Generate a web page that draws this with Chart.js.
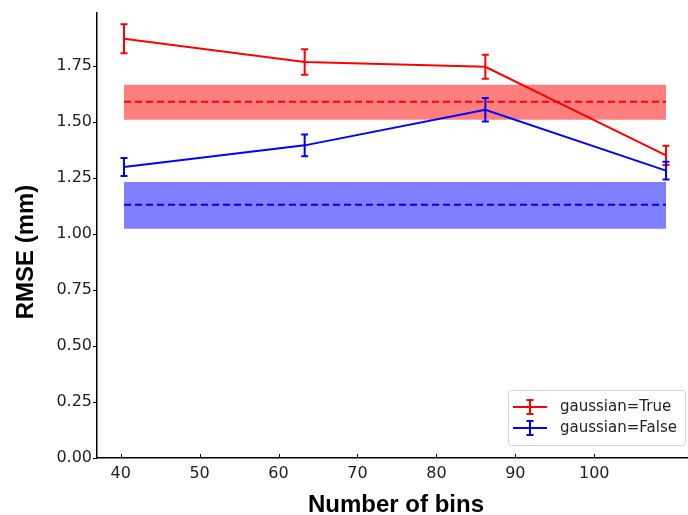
<!DOCTYPE html>
<html>
<head>
<meta charset="utf-8">
<script src="https://cdn.jsdelivr.net/npm/chart.js@4.4.1/dist/chart.umd.min.js"></script>
<style>
  html, body { margin: 0; padding: 0; background: #fff; }
  canvas { display: block; }
</style>
</head>
<body>
<canvas id="chart" width="688" height="515"></canvas>
<script>
// values
const bins = [40, 60, 80, 100];
const rmseTrue = [1.872, 1.768, 1.747, 1.351];
const errTrue = [0.065, 0.057, 0.054, 0.043];
const rmseFalse = [1.299, 1.396, 1.555, 1.283];
const errFalse = [0.040, 0.049, 0.052, 0.040];

// baseline mean and band (low, high) for each setting
const baseTrueMean = 1.591;
const baseTrueBand = [1.510, 1.667];
const baseFalseMean = 1.131;
const baseFalseBand = [1.024, 1.232];

const xTicks = [40, 50, 60, 70, 80, 90, 100];
const yTicks = [0, 0.25, 0.5, 0.75, 1.0, 1.25, 1.5, 1.75];

const legendLabels = ['gaussian=True', 'gaussian=False'];
const RED = '#ff0000';
const BLUE = '#0000ff';

const pts = (ys) => bins.map((b, i) => ({ x: b, y: ys[i] }));
const flat = (v) => [{ x: bins[0], y: v }, { x: bins[bins.length - 1], y: v }];

const series = [
    { mean: rmseTrue, err: errTrue, color: RED },
    { mean: rmseFalse, err: errFalse, color: BLUE }
];

// error bars drawn through the scales
const errorBars = {
    id: 'errorBars',
    afterDatasetsDraw(chart) {
        const { ctx, scales } = chart;
        const xs = scales.xd, ys = scales.y;
        ctx.save();
        ctx.lineWidth = 2;
        series.forEach(s => {
            ctx.strokeStyle = s.color;
            bins.forEach((b, i) => {
                const px = xs.getPixelForValue(b);
                const top = ys.getPixelForValue(s.mean[i] + s.err[i]);
                const bot = ys.getPixelForValue(s.mean[i] - s.err[i]);
                ctx.beginPath();
                ctx.moveTo(px, top); ctx.lineTo(px, bot);
                ctx.moveTo(px - 3.5, top); ctx.lineTo(px + 3.5, top);
                ctx.moveTo(px - 3.5, bot); ctx.lineTo(px + 3.5, bot);
                ctx.stroke();
            });
        });
        ctx.restore();
    }
};

// inward x ticks, axis titles and the legend box
const decorations = {
    id: 'decorations',
    afterDraw(chart) {
        const { ctx, chartArea, scales } = chart;
        ctx.save();
        ctx.strokeStyle = '#000';
        ctx.lineWidth = 1;
        xTicks.forEach(v => {
            const px = Math.round(scales.x.getPixelForValue(v)) + 0.5;
            ctx.beginPath();
            ctx.moveTo(px, chartArea.bottom);
            ctx.lineTo(px, chartArea.bottom - 4);
            ctx.stroke();
        });

        ctx.fillStyle = '#000';
        ctx.font = 'bold 24px "Liberation Sans", Arial, sans-serif';
        ctx.textAlign = 'center';
        ctx.textBaseline = 'alphabetic';
        ctx.fillText('Number of bins', 396, 512);
        ctx.translate(33, 252);
        ctx.rotate(-Math.PI / 2);
        ctx.fillText('RMSE (mm)', 0, 0);
        ctx.setTransform(1, 0, 0, 1, 0, 0);

        // legend
        const bx = 508.5, by = 390.5, bw = 177, bh = 55;
        ctx.beginPath();
        if (ctx.roundRect) ctx.roundRect(bx, by, bw, bh, 3); else ctx.rect(bx, by, bw, bh);
        ctx.fillStyle = 'rgba(255,255,255,0.8)';
        ctx.fill();
        ctx.strokeStyle = '#d4d4d4';
        ctx.stroke();

        ctx.font = '15px "DejaVu Sans", sans-serif';
        ctx.textAlign = 'left';
        ctx.textBaseline = 'middle';
        legendLabels.forEach((label, i) => {
            const cy = 407 + i * 21;
            const col = series[i].color;
            ctx.strokeStyle = col;
            ctx.lineWidth = 2;
            ctx.beginPath();
            ctx.moveTo(513, cy); ctx.lineTo(547, cy);
            ctx.moveTo(530, cy - 7); ctx.lineTo(530, cy + 7);
            ctx.moveTo(526.5, cy - 7); ctx.lineTo(533.5, cy - 7);
            ctx.moveTo(526.5, cy + 7); ctx.lineTo(533.5, cy + 7);
            ctx.stroke();
            ctx.fillStyle = '#222';
            ctx.fillText(label, 560, cy);
        });
        ctx.restore();
    }
};

const lineDefaults = { pointRadius: 0, tension: 0, xAxisID: 'xd', yAxisID: 'y' };

new Chart(document.getElementById('chart'), {
    type: 'line',
    data: {
        datasets: [
            { ...lineDefaults, label: legendLabels[0], data: pts(rmseTrue), borderColor: RED, borderWidth: 2, order: 0 },
            { ...lineDefaults, label: legendLabels[1], data: pts(rmseFalse), borderColor: BLUE, borderWidth: 2, order: 0 },
            { ...lineDefaults, data: flat(baseTrueMean), borderColor: RED, borderWidth: 2, borderDash: [7, 4], order: 1 },
            { ...lineDefaults, data: flat(baseFalseMean), borderColor: BLUE, borderWidth: 2, borderDash: [7, 4], order: 1 },
            { ...lineDefaults, data: flat(baseTrueBand[1]), borderWidth: 0, borderColor: 'rgba(0,0,0,0)',
              backgroundColor: 'rgba(255,0,0,0.5)', fill: { value: baseTrueBand[0] }, order: 2 },
            { ...lineDefaults, data: flat(baseFalseBand[1]), borderWidth: 0, borderColor: 'rgba(0,0,0,0)',
              backgroundColor: 'rgba(0,0,255,0.5)', fill: { value: baseFalseBand[0] }, order: 2 }
        ]
    },
    options: {
        responsive: false,
        devicePixelRatio: 1,
        animation: false,
        layout: { padding: { top: 13, left: 0, right: 0, bottom: 0 } },
        plugins: { legend: { display: false }, tooltip: { enabled: false } },
        scales: {
            x: {
                type: 'linear',
                min: 37.0,
                max: 111.88,
                afterBuildTicks: (axis) => { axis.ticks = xTicks.map(v => ({ value: v })); },
                afterFit: (axis) => { axis.height = 57; },
                grid: { display: false, drawTicks: false },
                border: { display: true, color: '#000', width: 1.5 },
                ticks: {
                    autoSkip: false, maxRotation: 0, padding: 6, color: '#222',
                    font: { family: 'DejaVu Sans', size: 16 }
                }
            },
            xd: {
                type: 'linear',
                display: false,
                min: 37.011,
                max: 102.435
            },
            y: {
                type: 'linear',
                min: 0,
                max: 1.987,
                afterBuildTicks: (axis) => { axis.ticks = yTicks.map(v => ({ value: v })); },
                afterFit: (axis) => { axis.width = 97; },
                grid: { drawOnChartArea: false, drawTicks: true, tickLength: 4, color: '#000' },
                border: { display: true, color: '#000', width: 1.5 },
                ticks: {
                    padding: 1, color: '#222',
                    font: { family: 'DejaVu Sans', size: 16 },
                    callback: (v) => Number(v).toFixed(2)
                }
            }
        }
    },
    plugins: [errorBars, decorations]
});
</script>
</body>
</html>
